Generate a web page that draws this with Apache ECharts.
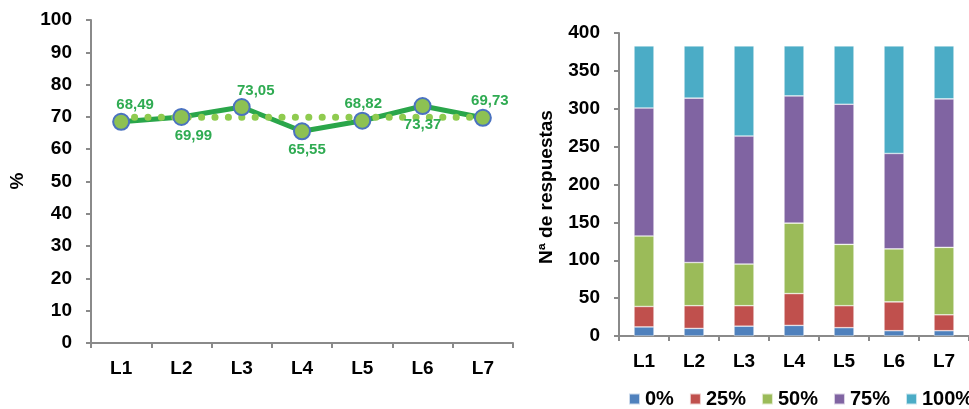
<!DOCTYPE html>
<html>
<head>
<meta charset="utf-8">
<script src="https://cdn.jsdelivr.net/npm/echarts@6/dist/echarts.min.js"></script>
<style>
  html, body { margin: 0; padding: 0; background: #fff; }
  #chart { width: 969px; height: 409px; }
</style>
</head>
<body>
<div id="chart"></div>
<script>
// categories
var lines = ['L1', 'L2', 'L3', 'L4', 'L5', 'L6', 'L7'];

// left chart: percentage per line and the mean line
var pct = [68.49, 69.99, 73.05, 65.55, 68.82, 73.37, 69.73];
var pctMean = [69.86, 69.86, 69.86, 69.86, 69.86, 69.86, 69.86];
var pctTicks = [0, 10, 20, 30, 40, 50, 60, 70, 80, 90, 100];

// right chart: number of answers per level
var levels = ['0%', '25%', '50%', '75%', '100%'];
var ans0 = [12, 10, 13, 14, 11, 7, 7];
var ans25 = [27, 30, 27, 42, 29, 38, 21];
var ans50 = [93, 57, 55, 93, 81, 70, 89];
var ans75 = [169, 217, 169, 168, 185, 126, 196];
var ans100 = [82, 69, 119, 66, 77, 142, 70];
var ansTicks = [0, 50, 100, 150, 200, 250, 300, 350, 400];

var levelColors = ['#4f81bd', '#c0504d', '#9bbb59', '#8064a2', '#4bacc6'];
var font = '"Liberation Sans", Arial, sans-serif';
var axisGray = '#8a8a8a';

var myChart = echarts.init(document.getElementById('chart'));

function catAxis(gridIndex) {
  return {
    type: 'category',
    gridIndex: gridIndex,
    data: lines,
    boundaryGap: true,
    axisLine: { lineStyle: { color: axisGray, width: 2 } },
    axisTick: { show: true, length: 5, interval: 0, lineStyle: { color: axisGray, width: 2 } },
    axisLabel: { interval: 0, margin: 16, color: '#000', fontFamily: font, fontWeight: 'bold', fontSize: 19 }
  };
}

function valAxis(gridIndex, ticks) {
  return {
    type: 'value',
    gridIndex: gridIndex,
    min: ticks[0],
    max: ticks[ticks.length - 1],
    interval: ticks[1] - ticks[0],
    splitLine: { show: false },
    axisLine: { show: true, lineStyle: { color: axisGray, width: 2 } },
    axisTick: { show: true, length: 5, lineStyle: { color: axisGray, width: 2 } },
    axisLabel: { margin: 19, color: '#000', fontFamily: font, fontWeight: 'bold', fontSize: 19 }
  };
}

var barSeries = [ans0, ans25, ans50, ans75, ans100].map(function (vals, i) {
  return {
    name: levels[i],
    type: 'bar',
    xAxisIndex: 1,
    yAxisIndex: 1,
    stack: 'answers',
    barWidth: 20,
    itemStyle: { color: levelColors[i], borderColor: 'rgba(255,255,255,0.7)', borderWidth: 0.6 },
    data: vals
  };
});

var labelShift = [14, 12, 14, 5, 1, 0, 7];

var option = {
  animation: false,
  textStyle: { fontFamily: font },
  grid: [
    { left: 91, top: 20, width: 422, height: 323 },
    { left: 619, top: 33, width: 359, height: 303 }
  ],
  xAxis: [catAxis(0), catAxis(1)],
  yAxis: [valAxis(0, pctTicks), valAxis(1, ansTicks)],
  legend: {
    data: levels,
    orient: 'horizontal',
    left: 628,
    top: 389,
    width: 500,
    padding: 0,
    itemWidth: 11,
    itemHeight: 11,
    itemGap: 15,
    icon: 'rect',
    textStyle: { color: '#000', fontFamily: font, fontWeight: 'bold', fontSize: 20 }
  },
  graphic: [
    {
      type: 'text', x: 18, y: 181, rotation: Math.PI / 2,
      style: { text: '%', font: 'bold 19px ' + font, fill: '#000', align: 'center', verticalAlign: 'middle' }
    },
    {
      type: 'text', x: 547, y: 187, rotation: Math.PI / 2,
      style: { text: 'Nª de respuestas', font: 'bold 19px ' + font, fill: '#000', align: 'center', verticalAlign: 'middle' }
    }
  ],
  series: [
    {
      name: 'linea',
      type: 'line',
      xAxisIndex: 0,
      yAxisIndex: 0,
      data: pct,
      symbol: 'none',
      z: 2,
      lineStyle: { color: '#2aa64a', width: 5 }
    },
    {
      name: 'media',
      type: 'line',
      xAxisIndex: 0,
      yAxisIndex: 0,
      data: pctMean,
      symbol: 'none',
      z: 3,
      lineStyle: { color: '#8fcb4f', width: 7, type: [0.1, 13.3], cap: 'round' }
    },
    {
      name: 'puntos',
      type: 'line',
      xAxisIndex: 0,
      yAxisIndex: 0,
      z: 4,
      symbol: 'circle',
      symbolSize: 16,
      lineStyle: { width: 0, opacity: 0 },
      itemStyle: { color: '#8dc153', borderColor: '#4a72c0', borderWidth: 2 },
      data: pct.map(function (v, i) {
        return {
          value: v,
          label: {
            show: true,
            position: i % 2 === 0 ? 'top' : 'bottom',
            distance: i % 2 === 0 ? 0 : 2,
            offset: [labelShift[i], 0],
            formatter: function (p) { return p.value.toFixed(2).replace('.', ','); },
            color: '#2fab52',
            fontFamily: font,
            fontWeight: 'bold',
            fontSize: 15
          }
        };
      })
    }
  ].concat(barSeries)
};

myChart.setOption(option);
</script>
</body>
</html>
